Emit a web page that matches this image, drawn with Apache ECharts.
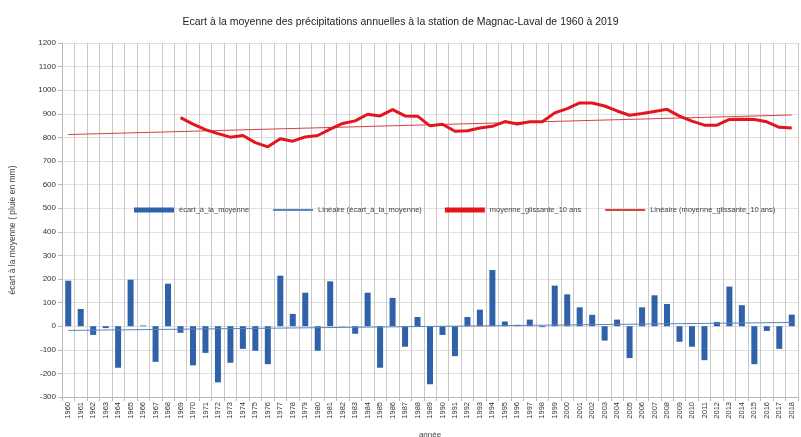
<!DOCTYPE html>
<html>
<head>
<meta charset="utf-8">
<script src="https://cdn.jsdelivr.net/npm/echarts@6/dist/echarts.min.js"></script>
<style>
html, body { margin: 0; padding: 0; background: #fff; }
#chart { width: 801px; height: 437px; }
</style>
</head>
<body>
<div id="chart"></div>
<script>
// années 1960 - 2018
var annees = [];
for (var a = 1960; a <= 2018; a++) annees.push(String(a));

// écart à la moyenne (mm)
var ecart = [193, 73, -37, -8, -176, 197, 3, -151, 180, -28,
	-166, -113, -238, -155, -96, -104, -161, 214, 52, 142,
	-104, 190, -1, -32, 142, -176, 120, -87, 39, -246,
	-37, -127, 39, 70, 238, 20, 6, 28, -4, 172,
	135, 80, 48, -61, 28, -135, 80, 131, 94, -66,
	-87, -144, 18, 168, 89, -161, -20, -96, 49];

// moyenne glissante 10 ans (à partir de 1969)
var moyenneGlissante = [null, null, null, null, null, null, null, null, null,
	884, 856, 833, 816, 801, 808, 778, 760, 794, 784, 802,
	808, 835, 859, 870, 898, 891, 918, 891, 890, 849,
	856, 826, 828, 840, 847, 867, 857, 866, 866, 904,
	922, 946, 946, 933, 912, 894, 901, 910, 919, 890,
	869, 852, 852, 876, 877, 876, 866, 843, 840];

// tendances linéaires (valeurs lues aux extrémités)
var lineaireEcart = [['1960', -18], ['2018', 16]];
var lineaireGlissante = [['1960', 812], ['2018', 895]];

var narrow = 'Liberation Sans Narrow, Liberation Sans';

var option = {
	backgroundColor : '#fff',
	animation : false,
	textStyle : {
		fontFamily : 'Liberation Sans'
	},
	title : {
		text : 'Ecart à la moyenne des précipitations annuelles à la station de Magnac-Laval de 1960 à 2019',
		left : 'center',
		top : 12,
		textStyle : {
			fontSize : 10.5,
			fontWeight : 'normal',
			color : '#222'
		}
	},
	legend : {
		top : 201,
		left : 129,
		itemGap : 23,
		itemWidth : 40,
		itemHeight : 5,
		textStyle : {
			fontSize : 7.5,
			fontFamily : narrow,
			color : '#444'
		},
		data : [{
			name : 'écart_à_la_moyenne',
			icon : 'rect'
		}, {
			name : 'Linéaire (écart_à_la_moyenne)',
			itemStyle : {
				opacity : 0
			}
		}, {
			name : 'moyenne_glissante_10 ans',
			icon : 'rect'
		}, {
			name : 'Linéaire (moyenne_glissante_10 ans)',
			itemStyle : {
				opacity : 0
			}
		}]
	},
	grid : {
		left : 62,
		right : 3,
		top : 43,
		bottom : 40,
		outerBoundsMode : 'none'
	},
	xAxis : {
		type : 'category',
		data : annees,
		boundaryGap : true,
		name : 'année',
		nameLocation : 'middle',
		nameGap : 34,
		nameTextStyle : {
			fontSize : 8,
			fontFamily : narrow,
			color : '#444'
		},
		axisLine : {
			onZero : false,
			lineStyle : {
				color : '#b8b8b8'
			}
		},
		axisTick : {
			show : true,
			length : 4,
			lineStyle : {
				color : '#b8b8b8'
			}
		},
		axisLabel : {
			rotate : 90,
			interval : 0,
			fontSize : 7.5,
			fontFamily : narrow,
			color : '#333',
			margin : 5
		},
		splitLine : {
			show : true,
			lineStyle : {
				color : '#c8c8c8'
			}
		}
	},
	yAxis : {
		type : 'value',
		min : -300,
		max : 1200,
		interval : 100,
		name : 'écart à la moyenne ( pluie en mm)',
		nameLocation : 'middle',
		nameGap : 45,
		nameTextStyle : {
			fontSize : 8.5,
			fontFamily : narrow,
			color : '#444',
			padding : [0, 20, 0, 0]
		},
		axisLine : {
			show : true,
			lineStyle : {
				color : '#b8b8b8'
			}
		},
		axisTick : {
			show : true,
			length : 4,
			lineStyle : {
				color : '#b8b8b8'
			}
		},
		axisLabel : {
			fontSize : 8,
			fontFamily : narrow,
			color : '#333',
			margin : 6,
			formatter : function(v) {
				return String(v);
			}
		},
		splitLine : {
			lineStyle : {
				color : '#e0e0e0'
			}
		}
	},
	series : [{
		name : 'écart_à_la_moyenne',
		type : 'bar',
		data : ecart,
		barWidth : 6,
		itemStyle : {
			color : '#2f62a8'
		},
		z : 2
	}, {
		name : 'Linéaire (écart_à_la_moyenne)',
		type : 'line',
		data : lineaireEcart,
		symbol : 'none',
		lineStyle : {
			width : 1,
			color : '#5a85c2'
		},
		itemStyle : {
			color : '#5a85c2'
		},
		z : 3
	}, {
		name : 'moyenne_glissante_10 ans',
		type : 'line',
		data : moyenneGlissante,
		symbol : 'none',
		lineStyle : {
			width : 3,
			color : '#e3161e'
		},
		itemStyle : {
			color : '#e3161e'
		},
		z : 4
	}, {
		name : 'Linéaire (moyenne_glissante_10 ans)',
		type : 'line',
		data : lineaireGlissante,
		symbol : 'none',
		lineStyle : {
			width : 1,
			color : '#d9413f'
		},
		itemStyle : {
			color : '#d9413f'
		},
		z : 3
	}]
};

var myChart = echarts.init(document.getElementById('chart'));
myChart.setOption(option);
</script>
</body>
</html>
